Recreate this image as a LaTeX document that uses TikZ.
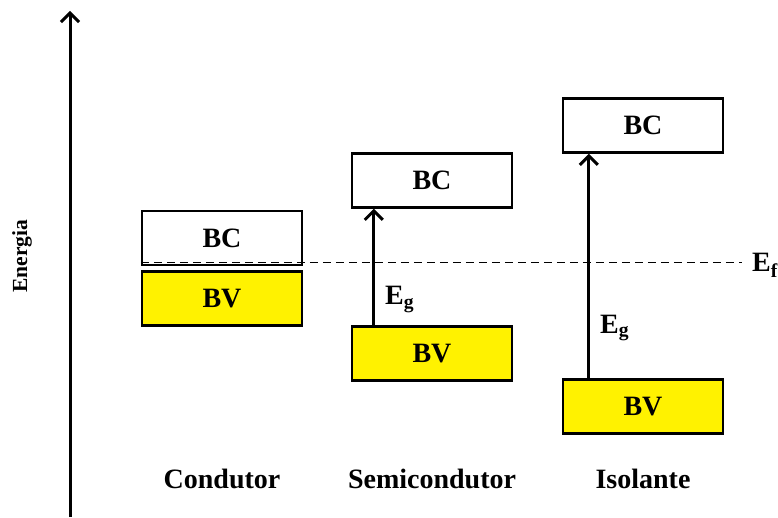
\documentclass[tikz,border=0pt]{standalone}
\usepackage{fontspec}
\setmainfont{Liberation Serif}
\usetikzlibrary{arrows.meta}

\begin{document}
\begin{tikzpicture}[x=1pt,y=1pt,
  band/.style={draw, line width=2.5pt, minimum width=160pt, minimum height=54pt,
    inner sep=0pt, font=\fontsize{28}{30}\selectfont\bfseries},
  bc/.style={band, fill=white},
  bv/.style={band, fill=yellow},
  gap/.style={line width=3pt, -{Straight Barb[length=9pt,width=18pt]}},
  lbl/.style={font=\fontsize{28}{30}\selectfont\bfseries}]
\useasboundingbox (0,0) rectangle (778,517);
% eixo de energia
\coordinate (eixo0) at (70,0);
\coordinate (eixo1) at (70,506);
\draw[gap] (eixo0) -- (eixo1);
\node[rotate=90, font=\fontsize{21.5}{24}\selectfont\bfseries] (energia) at (22,261) {Energia};
% bandas
\node[bc] (cbc) at (222,279) {BC};
\node[bv] (cbv) at (222,218.5) {BV};
\node[bc] (sbc) at (432,336.5) {BC};
\node[bv] (sbv) at (432,163.5) {BV};
\node[bc] (ibc) at (643,391.5) {BC};
\node[bv] (ibv) at (643,110.5) {BV};
% nivel de Fermi
\coordinate (ef) at (742,255);
\draw[line width=0.9pt, dash pattern=on 8pt off 5pt] (cbc.west |- ef) -- (ef);
\node[lbl, anchor=base west, inner sep=0pt] (eflbl) at (752,245) {E\textsubscript{f}};
% gaps
\draw[gap] ([xshift=23pt]sbv.north west) -- ([xshift=23pt]sbc.south west);
\draw[gap] ([xshift=27pt]ibv.north west) -- ([xshift=27pt]ibc.south west);
\node[lbl, anchor=base west, inner sep=0pt] (sgap) at (385,212) {E\textsubscript{g}};
\node[lbl, anchor=base west, inner sep=0pt] (igap) at (600,184) {E\textsubscript{g}};
% nomes
\node[lbl, anchor=base] (cond) at (cbv |- 0,29) {Condutor};
\node[lbl, anchor=base] (semi) at (sbv |- 0,29) {Semicondutor};
\node[lbl, anchor=base] (iso) at (ibv |- 0,29) {Isolante};
\end{tikzpicture}
\end{document}
